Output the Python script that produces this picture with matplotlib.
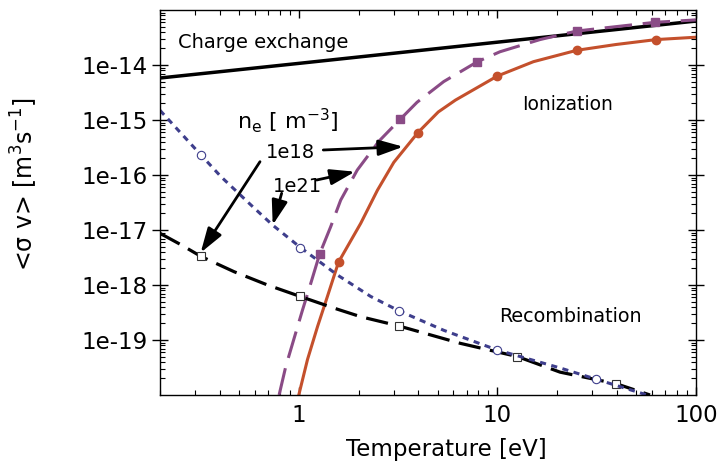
import matplotlib.pyplot as plt
from matplotlib.ticker import LogLocator, NullFormatter

plt.rcParams['font.family'] = 'DejaVu Sans'
plt.rcParams['mathtext.fontset'] = 'dejavusans'
plt.rcParams['mathtext.default'] = 'regular'

# charge exchange
t_cx = [0.2, 1.0, 10.0, 100.0]
sv_cx = [5.8e-15, 1.07e-14, 2.6e-14, 6.3e-14]

# ionization, ne = 1e18
t_ion18 = [1.0, 1.106, 1.242, 1.394, 1.585, 2.05, 2.49, 3.01, 3.98, 5.04,
           6.15, 10.0, 15.2, 25.1, 39.6, 63.1, 100.0]
sv_ion18 = [1e-20, 4.4e-20, 1.74e-19, 6.2e-19, 2.6e-18, 1.32e-17, 5.3e-17,
            1.7e-16, 5.9e-16, 1.4e-15, 2.3e-15, 6.3e-15, 1.15e-14, 1.85e-14,
            2.36e-14, 2.9e-14, 3.2e-14]
mk_ion18 = [4, 8, 11, 13, 15]

# ionization, ne = 1e21
t_ion21 = [0.796, 0.86, 0.947, 1.044, 1.149, 1.275, 1.448, 1.626, 1.97, 2.53,
           3.25, 3.94, 5.37, 7.94, 10.3, 16.4, 25.1, 62.1, 100.0]
sv_ion21 = [1e-20, 3.3e-20, 1.07e-19, 3.5e-19, 1.07e-18, 3.7e-18, 1.15e-17,
            3.5e-17, 1.23e-16, 4.1e-16, 1.04e-15, 2.1e-15, 5e-15, 1.15e-14,
            1.74e-14, 2.9e-14, 4.15e-14, 5.97e-14, 6.6e-14]
mk_ion21 = [5, 10, 13, 16, 17]

# recombination, ne = 1e18
t_rec18 = [0.2, 0.255, 0.322, 0.473, 0.696, 1.015, 1.504, 2.05, 3.19, 6.5,
           12.6, 20.7, 39.7, 58.7]
sv_rec18 = [8.7e-18, 5.4e-18, 3.3e-18, 1.74e-18, 1e-18, 6.2e-19, 3.8e-19,
            2.65e-19, 1.8e-19, 8.7e-20, 5.0e-20, 2.6e-20, 1.6e-20, 1e-20]
mk_rec18 = [2, 5, 8, 10, 12]

# recombination, ne = 1e21
t_rec21 = [0.2, 0.322, 0.406, 0.574, 0.738, 1.02, 1.565, 2.3, 3.19, 5.37,
           9.95, 20.7, 31.4, 56.7]
sv_rec21 = [1.5e-15, 2.3e-16, 9.3e-17, 2.85e-17, 1.23e-17, 4.8e-18, 1.52e-18,
            6.2e-19, 3.4e-19, 1.5e-19, 6.6e-20, 3.1e-20, 1.94e-20, 1e-20]
mk_rec21 = [1, 5, 8, 10, 12]

yticks = [1e-19, 1e-18, 1e-17, 1e-16, 1e-15, 1e-14]
ylabels = ['1e-19', '1e-18', '1e-17', '1e-16', '1e-15', '1e-14']
xticks = [1, 10, 100]
xlabels = ['1', '10', '100']

red = '#c4502c'
purple = '#8a4b86'
blue = '#3e3e8c'

fig = plt.figure(figsize=(7.2, 4.61), dpi=100)
ax = fig.add_axes([0.2222, 0.1432, 0.7444, 0.8351])

ax.plot(t_cx, sv_cx, color='k', lw=2.5, solid_capstyle='butt')
ax.plot(t_ion18, sv_ion18, color=red, lw=2.2, marker='o', ms=6,
        markevery=mk_ion18)
ax.plot(t_ion21, sv_ion21, color=purple, lw=2.2, dashes=(9, 3.5),
        marker='s', ms=6, markevery=mk_ion21)
ax.plot(t_rec18, sv_rec18, color='k', lw=2.3, dashes=(7, 3), marker='s',
        ms=6, mfc='white', mec='#333333', mew=0.8, markevery=mk_rec18)
ax.plot(t_rec21, sv_rec21, color=blue, lw=2.2, dashes=(2, 1.8), marker='o',
        ms=6, mfc='white', mec=blue, mew=0.8, markevery=mk_rec21)

ax.set_xscale('log')
ax.set_yscale('log')
ax.set_xlim(0.2, 100)
ax.set_ylim(1e-20, 1e-13)

ax.set_xticks(xticks)
ax.set_xticklabels(xlabels)
ax.set_yticks(yticks)
ax.set_yticklabels(ylabels)
ax.xaxis.set_minor_locator(LogLocator(base=10, subs=range(2, 10)))
ax.yaxis.set_minor_locator(LogLocator(base=10, subs=range(2, 10), numticks=20))
ax.xaxis.set_minor_formatter(NullFormatter())
ax.yaxis.set_minor_formatter(NullFormatter())

ax.tick_params(which='both', top=True, right=True, labelsize=16.5, width=1)
ax.tick_params(axis='y', which='major', direction='inout', length=11.5, pad=3)
ax.tick_params(axis='x', which='major', direction='in', length=6, pad=6.5)
ax.tick_params(which='minor', direction='in', length=3.5, width=0.8)
for s in ax.spines.values():
    s.set_linewidth(1.0)

ax.set_xlabel('Temperature [eV]', fontsize=16.5)
ax.xaxis.set_label_coords(0.534, -0.112)
fig.text(24 / 720, 1 - 184 / 461, '<σ v> [m$^{3}$s$^{-1}$]', rotation=90,
         ha='center', va='center', fontsize=17)

ax.text(0.192, 0.902, 'Charge exchange', transform=ax.transAxes,
        ha='center', va='baseline', fontsize=14)
ax.text(0.760, 0.740, 'Ionization', transform=ax.transAxes,
        ha='center', va='baseline', fontsize=13.5)
ax.text(0.766, 0.190, 'Recombination', transform=ax.transAxes,
        ha='center', va='baseline', fontsize=13.8)
ax.text(0.238, 0.713, 'n$_{e}$ [ m$^{-3}$]', transform=ax.transAxes,
        ha='center', va='center', fontsize=16)
ax.text(0.2425, 0.615, '1e18', transform=ax.transAxes,
        ha='center', va='baseline', fontsize=14)
ax.text(0.2556, 0.528, '1e21', transform=ax.transAxes,
        ha='center', va='baseline', fontsize=14)

arrows = [
    ((0.3047, 0.6364), (0.4539, 0.6449)),
    ((0.1866, 0.6060), (0.0759, 0.3696)),
    ((0.2923, 0.5584), (0.3638, 0.5800)),
    ((0.2270, 0.5239), (0.2103, 0.4416)),
]
for tail, tip in arrows:
    ax.annotate('', xy=tip, xytext=tail, xycoords='axes fraction',
                textcoords='axes fraction',
                arrowprops=dict(arrowstyle='-|>,head_length=0.75,head_width=0.24',
                                color='k', lw=2.0, shrinkA=0, shrinkB=0,
                                mutation_scale=20))

fig.savefig('out.png', dpi=100)
